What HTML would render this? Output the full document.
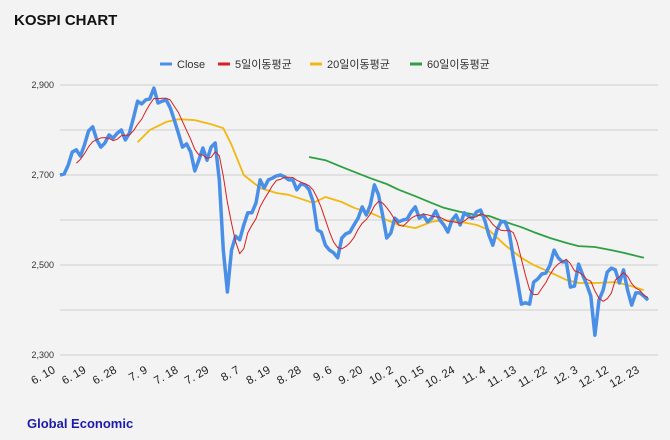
<!DOCTYPE html>
<html><head><meta charset="utf-8"><style>
body{margin:0;background:#f3f3f3;font-family:"Liberation Sans","Noto Sans CJK KR",sans-serif}
#wrap{position:relative;width:670px;height:440px;overflow:hidden;background:#f3f3f3}
</style></head><body>
<div id="wrap">
<svg id="c" width="670" height="440">
<text x="14" y="25" font-size="15" font-weight="bold" fill="#111">KOSPI CHART</text>
<g font-size="11" fill="#333">
<g><line x1="160" y1="64" x2="172" y2="64" stroke="#4a8fe7" stroke-width="3"/><text x="177" y="68">Close</text></g>
<g><line x1="218" y1="64" x2="230" y2="64" stroke="#d82020" stroke-width="3"/><text x="235" y="68">5일이동평균</text></g>
<g><line x1="310" y1="64" x2="322" y2="64" stroke="#f2b80f" stroke-width="3"/><text x="327" y="68">20일이동평균</text></g>
<g><line x1="410" y1="64" x2="422" y2="64" stroke="#2ea043" stroke-width="3"/><text x="427" y="68">60일이동평균</text></g>
</g>
<g id="grid"></g><g id="xl"></g><g id="lines"></g>
<text x="27" y="428" font-size="13" font-weight="bold" fill="#1c1ca8">Global Economic</text>
</svg></div>
<script>
const close=[2700,2702,2722,2751,2756,2742,2767,2798,2807,2778,
2762,2771,2789,2782,2793,2800,2778,2793,2827,2864,
2858,2867,2869,2893,2860,2864,2867,2849,2822,2793,
2762,2769,2751,2709,2733,2760,2733,2762,2771,2689,
2533,2440,2533,2564,2556,2589,2616,2616,2638,2689,
2671,2689,2693,2698,2700,2696,2689,2689,2667,2680,
2678,2667,2640,2578,2573,2544,2533,2527,2516,2560,
2569,2573,2589,2604,2629,2611,2633,2678,2656,2611,
2560,2571,2604,2596,2600,2602,2618,2629,2604,2611,
2596,2604,2620,2600,2589,2573,2600,2611,2589,2616,
2609,2604,2618,2622,2600,2567,2544,2578,2596,2596,
2573,2516,2467,2413,2416,2413,2462,2469,2480,2482,
2500,2533,2516,2507,2507,2451,2453,2502,2478,2456,
2431,2344,2422,2444,2484,2493,2489,2460,2489,2444,
2411,2438,2438,2431,2422];
const ma20Idx=[19,22,26,29,33,37,40,42,45,49,53,56,60,62,65,69,72,76,80,83,87,91,94,98,102,105,109,113,116,120,124,127,131,136,140,143];
const ma20Val=[2773,2800,2818,2824,2822,2813,2804,2767,2700,2671,2660,2656,2644,2638,2651,2640,2627,2616,2600,2589,2582,2596,2600,2596,2589,2578,2544,2516,2500,2484,2467,2460,2460,2462,2453,2444];
const ma60Idx=[61,65,69,72,76,80,83,87,91,94,98,102,105,109,113,116,120,124,127,131,135,138,143];
const ma60Val=[2740,2733,2718,2707,2693,2680,2667,2653,2638,2627,2618,2611,2609,2596,2584,2573,2560,2549,2542,2540,2533,2527,2516];
const yTicks=[2300,2400,2500,2600,2700,2800,2900];
const yLabels=["2,300","","2,500","","2,700","","2,900"];
const xLabels=["6. 10","6. 19","6. 28","7. 9","7. 18","7. 29","8. 7","8. 19","8. 28","9. 6","9. 20","10. 2","10. 15","10. 24","11. 4","11. 13","11. 22","12. 3","12. 12","12. 23"];
const NS="http://www.w3.org/2000/svg";
const X0=60,X1=648,n=close.length;
const xs=i=>X0+i*(X1-X0)/(n-1);
const ys=v=>355-(v-2300)*0.45;
function mk(t,a,p){const e=document.createElementNS(NS,t);for(const k in a)e.setAttribute(k,a[k]);p.appendChild(e);return e;}
const grid=document.getElementById('grid');
yTicks.forEach((v,i)=>{
 const l=mk('line',{x1:X0,x2:658,y1:ys(v),y2:ys(v),stroke:'#cfcfcf','stroke-width':1},grid);
 
 
 if(yLabels[i]){const t=mk('text',{x:54,y:ys(v)+3,'font-size':9,fill:'#333','text-anchor':'end'},grid);t.textContent=yLabels[i];
 
 }
});
const xl=document.getElementById('xl');
xLabels.forEach((s,k)=>{
 const x=56+k*(640-56)/(xLabels.length-1);
 const t=mk('text',{x:x,y:372,'font-size':11.5,fill:'#222','text-anchor':'end',transform:`rotate(-30 ${x} 372)`},xl);
 t.textContent=s;
 
 
});
const lines=document.getElementById('lines');
function path(pts,col,w,name){
 const d=pts.map((p,i)=>(i?'L':'M')+p[0].toFixed(1)+' '+p[1].toFixed(1)).join(' ');
 const e=mk('path',{d:d,fill:'none',stroke:col,'stroke-width':w,'stroke-linejoin':'round'},lines);
 
 
}
path(ma60Idx.map((i,k)=>[xs(i),ys(ma60Val[k])]),'#2ea043',1.8,'ma60-line');
path(ma20Idx.map((i,k)=>[xs(i),ys(ma20Val[k])]),'#f2b80f',1.8,'ma20-line');
path(close.map((v,i)=>[xs(i),ys(v)]),'#4a8fe7',3.5,'close-line');
const ma5=[];for(let i=4;i<n;i++){let s=0;for(let j=i-4;j<=i;j++)s+=close[j];ma5.push([xs(i),ys(s/5)]);}
path(ma5,'#d82020',1,'ma5-line');
</script></body></html>
